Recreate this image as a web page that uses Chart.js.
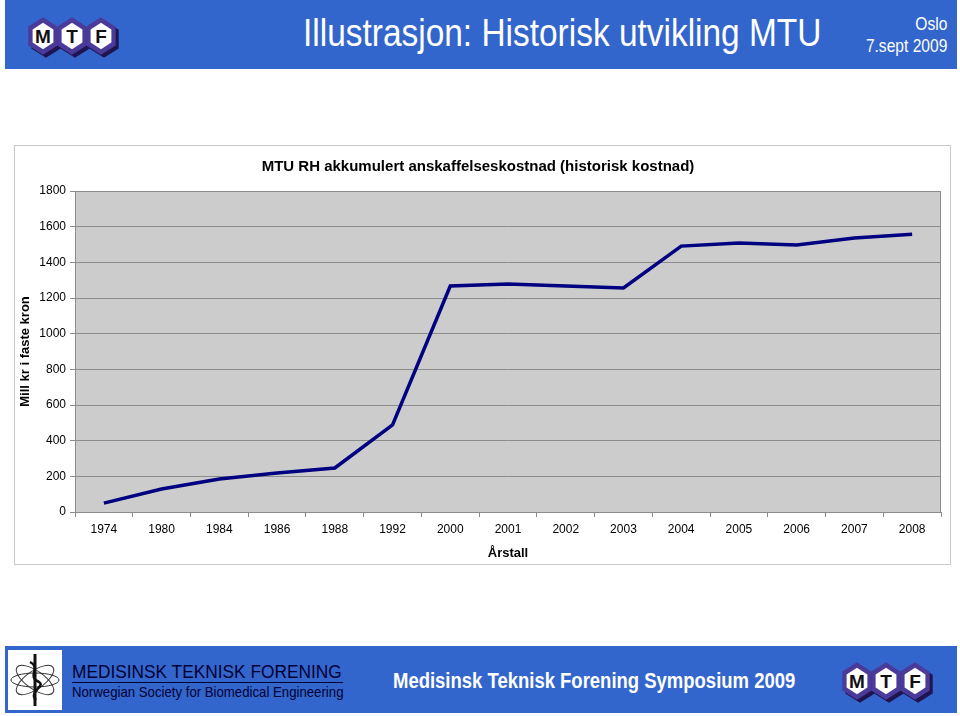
<!DOCTYPE html>
<html>
<head>
<meta charset="utf-8">
<script src="https://cdn.jsdelivr.net/npm/chart.js@4/dist/chart.umd.min.js"></script>
<style>
  body { margin: 0; width: 960px; height: 716px; background: #fff; position: relative; overflow: hidden; font-family: "Liberation Sans", Arial, sans-serif; }
  .bar { position: absolute; left: 5px; width: 952px; background: #3366cc; }
  #header { top: 0; height: 69px; }
  #footer { top: 646px; height: 67px; }
  #title { position: absolute; left: 298px; top: 12px; color: #fff; font-size: 38px; white-space: nowrap; transform: scaleX(0.88); transform-origin: left top; }
  #place { position: absolute; right: 10px; top: 13px; color: #fff; font-size: 19px; text-align: right; line-height: 22px; transform: scaleX(0.82); transform-origin: right top; }
  #chartBox { position: absolute; left: 14px; top: 145px; width: 937px; height: 420px; border: 1px solid #c8c8c8; box-sizing: border-box; background: #fff; }
  #foot1 { position: absolute; left: 67px; top: 15px; color: #000033; font-size: 19px; white-space: nowrap; border-bottom: 1px solid #000033; line-height: 21px; padding-right: 2px; transform: scaleX(0.91); transform-origin: left top; }
  #foot2 { position: absolute; left: 67px; top: 37px; color: #000033; font-size: 15px; white-space: nowrap; transform: scaleX(0.88); transform-origin: left top; }
  #foot3 { position: absolute; left: 388px; top: 22px; color: #fff; font-size: 22px; font-weight: bold; white-space: nowrap; transform: scaleX(0.84); transform-origin: left top; }
  #whitebox { position: absolute; left: 3px; top: 4px; width: 54px; height: 60px; background: #fff; }
  .logo { position: absolute; }
</style>
</head>
<body>
<div id="header" class="bar">
  <div class="logo" id="logoTop" style="left:22px;top:14px"></div>
  <div id="title">Illustrasjon: Historisk utvikling MTU</div>
  <div id="place">Oslo<br>7.sept 2009</div>
</div>

<div id="chartBox"><canvas id="chart"></canvas></div>

<div id="footer" class="bar">
  <div id="whitebox">
    <svg width="54" height="60" viewBox="0 0 54 60">
      <g fill="none" stroke="#333" stroke-width="1">
        <ellipse cx="27" cy="30" rx="22" ry="9" transform="rotate(35 27 30)"/>
        <ellipse cx="27" cy="30" rx="22" ry="9" transform="rotate(-35 27 30)"/>
        <ellipse cx="27" cy="30" rx="24" ry="7"/>
      </g>
      <path d="M27 4 L27 56" stroke="#111" stroke-width="3"/>
      <path d="M22 12 C34 18, 18 26, 31 32 C38 36, 20 42, 28 50" fill="none" stroke="#111" stroke-width="2.5"/>
    </svg>
  </div>
  <div id="foot1">MEDISINSK TEKNISK FORENING</div>
  <div id="foot2">Norwegian Society for Biomedical Engineering</div>
  <div id="foot3">Medisinsk Teknisk Forening Symposium 2009</div>
  <div class="logo" id="logoBottom" style="left:836px;top:13px"></div>
</div>

<script>
// data
let years = ["1974", "1980", "1984", "1986", "1988", "1992", "2000", "2001", "2002", "2003", "2004", "2005", "2006", "2007", "2008"];
let costs = [50, 129, 185, 219, 247, 488, 1267, 1278, 1267, 1256, 1491, 1508, 1497, 1536, 1558];
let yTicks = [0, 200, 400, 600, 800, 1000, 1200, 1400, 1600, 1800];

let chartTitle = "MTU RH akkumulert anskaffelseskostnad (historisk kostnad)";
let yTitle = "Mill kr i faste kron";
let xTitle = "Årstall";

function logoSvg() {
    let letters = ["M", "T", "F"];
    let s = '<svg width="92" height="46" viewBox="0 0 92 46">';
    letters.forEach((l, i) => {
        let cx = 16 + i * 29;
        let hex = (x, y, r) => {
            let pts = [];
            for (let k = 0; k < 6; k++) {
                let a = Math.PI / 180 * (60 * k - 90);
                pts.push((x + r * Math.cos(a)).toFixed(1) + "," + (y + r * 1.1 * Math.sin(a)).toFixed(1));
            }
            return pts.join(" ");
        };
        s += '<polygon points="' + hex(cx + 3, 25, 17) + '" fill="#1e1450"/>';
        s += '<polygon points="' + hex(cx, 22, 17) + '" fill="#4a3a9a"/>';
        s += '<polygon points="' + hex(cx, 22, 12) + '" fill="#ffffff"/>';
        s += '<text x="' + cx + '" y="29" text-anchor="middle" font-family="Liberation Sans, Arial" font-weight="bold" font-size="19" fill="#111">' + l + '</text>';
    });
    s += '</svg>';
    return s;
}
document.getElementById("logoTop").innerHTML = logoSvg();
document.getElementById("logoBottom").innerHTML = logoSvg();

const plotBg = {
    id: "plotBg",
    beforeDraw(chart) {
        let a = chart.chartArea;
        let ctx = chart.ctx;
        ctx.save();
        ctx.fillStyle = "#cccccc";
        ctx.fillRect(a.left, a.top, a.right - a.left, a.bottom - a.top);
        ctx.restore();
    },
    beforeDatasetsDraw(chart) {
        let a = chart.chartArea;
        let ctx = chart.ctx;
        ctx.save();
        ctx.strokeStyle = "#8c8c8c";
        ctx.lineWidth = 1;
        ctx.strokeRect(a.left + 0.5, a.top + 0.5, a.right - a.left - 1, a.bottom - a.top);
        ctx.restore();
    }
};

Chart.defaults.font.family = "'Liberation Sans', Arial, sans-serif";
Chart.defaults.color = "#000";

const ctx = document.getElementById("chart").getContext("2d");
window.chart = new Chart(ctx, {
    type: "line",
    data: {
        labels: years,
        datasets: [{
            data: costs,
            borderColor: "#000080",
            borderWidth: 3.5,
            pointRadius: 0,
            tension: 0,
            fill: false
        }]
    },
    options: {
        responsive: true,
        maintainAspectRatio: false,
        animation: false,
        layout: { padding: { left: 0, right: 9, top: 0, bottom: 3 } },
        plugins: {
            legend: { display: false },
            tooltip: { enabled: false },
            title: {
                display: true,
                text: chartTitle,
                font: { size: 15, weight: "bold" },
                color: "#000",
                padding: { top: 12, bottom: 15 }
            }
        },
        scales: {
            x: {
                offset: true,
                grid: { display: true, drawOnChartArea: false, offset: true, tickLength: 5, color: "#8c8c8c" },
                border: { color: "#8c8c8c" },
                ticks: { font: { size: 12 }, color: "#000", padding: 5, maxRotation: 0, autoSkip: false },
                title: { display: true, text: xTitle, font: { size: 13, weight: "bold" }, color: "#000", padding: { top: 0, bottom: 0 } },
                afterFit(scale) { scale.height = 49; }
            },
            y: {
                min: 0,
                max: 1800,
                afterBuildTicks(scale) { scale.ticks = yTicks.map(v => ({ value: v })); },
                grid: { color: "#8c8c8c", tickLength: 5 },
                border: { color: "#8c8c8c" },
                ticks: { font: { size: 12 }, color: "#000", padding: 4, callback: v => String(v) },
                title: { display: true, text: yTitle, font: { size: 13, weight: "bold" }, color: "#000", padding: { top: 3, bottom: 0 } },
                afterFit(scale) { scale.width = 60; }
            }
        }
    },
    plugins: [plotBg]
});
</script>
</body>
</html>
